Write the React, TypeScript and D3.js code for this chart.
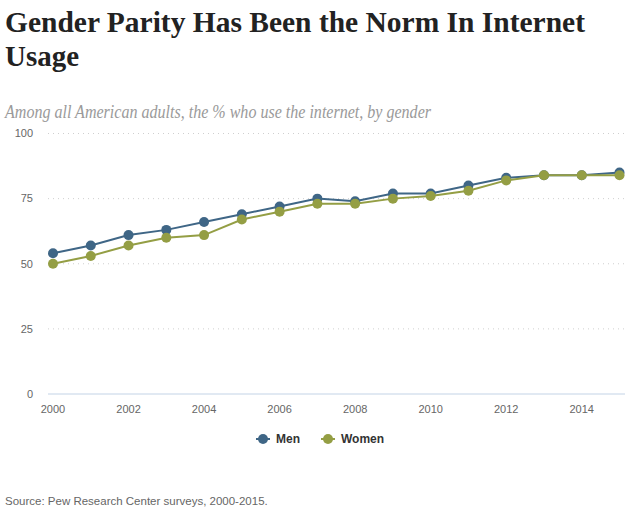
import React from "react";
import * as d3 from "d3";

const years = [2000, 2001, 2002, 2003, 2004, 2005, 2006, 2007, 2008, 2009, 2010, 2011, 2012, 2013, 2014, 2015];
const menValues = [54, 57, 61, 63, 66, 69, 72, 75, 74, 77, 77, 80, 83, 84, 84, 85];
const womenValues = [50, 53, 57, 60, 61, 67, 70, 73, 73, 75, 76, 78, 82, 84, 84, 84];
const yTicks = [0, 25, 50, 75, 100];
const xTicks = [2000, 2002, 2004, 2006, 2008, 2010, 2012, 2014];
const seriesNames = ["Men", "Women"];
const seriesColors = ["#3f6686", "#949e44"];

const title1 = "Gender Parity Has Been the Norm In Internet";
const title2 = "Usage";
const subtitle = "Among all American adults, the % who use the internet, by gender";
const source = "Source: Pew Research Center surveys, 2000-2015.";

export default function App() {
  const W = 640, H = 517;
  const x = d3.scaleLinear().domain([2000, 2015]).range([53, 619.5]);
  const y = d3.scaleLinear().domain([0, 100]).range([394, 133.5]);
  const line = d3.line<number>().x((_, i) => x(years[i])).y((d) => y(d));
  const series = [menValues, womenValues];
  const sans = "'Liberation Sans', Arial, sans-serif";
  const serif = "'Liberation Serif', 'Times New Roman', serif";
  return (
    <svg width={W} height={H} style={{ position: "absolute", left: 0, top: 0, background: "#fff" }}>
      <text x={5} y={32} fontFamily={serif} fontWeight="bold" fontSize={29} fill="#222" textLength={580} lengthAdjust="spacingAndGlyphs">{title1}</text>
      <text x={5} y={66} fontFamily={serif} fontWeight="bold" fontSize={29} fill="#222" textLength={74} lengthAdjust="spacingAndGlyphs">{title2}</text>
      <text x={5} y={118} fontFamily={serif} fontStyle="italic" fontSize={18} fill="#9a9a9a" textLength={426} lengthAdjust="spacingAndGlyphs">{subtitle}</text>
      {yTicks.map((t) => (
        <g key={t}>
          {t !== 0 && (
            <line x1={48} x2={625} y1={y(t)} y2={y(t)} stroke="#cfcfcf" strokeWidth={1} strokeDasharray="1,4" />
          )}
          <text x={33} y={y(t)} dy="0.35em" textAnchor="end" fontFamily={sans} fontSize={11} fill="#666">{t}</text>
        </g>
      ))}
      <line x1={48} x2={625} y1={y(0)} y2={y(0)} stroke="#c3d3e6" strokeWidth={1} />
      {xTicks.map((t) => (
        <text key={t} x={x(t)} y={409} dy="0.35em" textAnchor="middle" fontFamily={sans} fontSize={11} fill="#666">{t}</text>
      ))}
      {series.map((vals, si) => (
        <g key={si}>
          <path d={line(vals) || ""} fill="none" stroke={seriesColors[si]} strokeWidth={2} />
          {vals.map((v, i) => (
            <circle key={i} cx={x(years[i])} cy={y(v)} r={5} fill={seriesColors[si]} />
          ))}
        </g>
      ))}
      {seriesNames.map((n, i) => {
        const lx = i === 0 ? 263 : 328;
        return (
          <g key={n}>
            <line x1={lx - 7} x2={lx + 7} y1={439} y2={439} stroke={seriesColors[i]} strokeWidth={2} />
            <circle cx={lx} cy={439} r={5} fill={seriesColors[i]} />
            <text x={lx + 13} y={439} dy="0.35em" fontFamily={sans} fontWeight="bold" fontSize={12} fill="#333">{n}</text>
          </g>
        );
      })}
      <text x={5} y={501} dy="0.35em" fontFamily={sans} fontSize={11.5} fill="#666">{source}</text>
    </svg>
  );
}
